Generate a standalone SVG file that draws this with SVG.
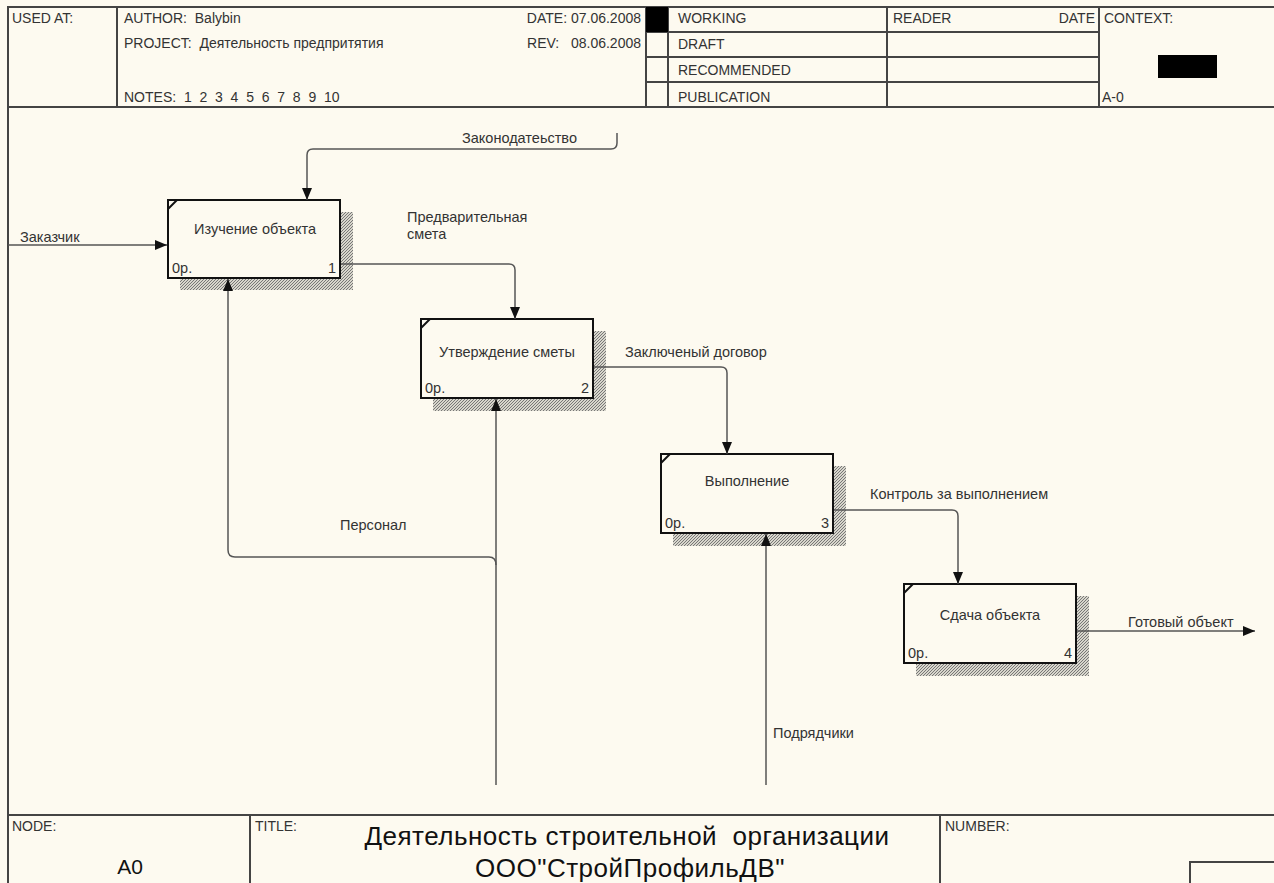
<svg xmlns="http://www.w3.org/2000/svg" width="1274" height="883" viewBox="0 0 1274 883">
<style>
text{font-family:"Liberation Sans",Arial,sans-serif;fill:#333;white-space:pre}
.h{font-size:14px}
.l{font-size:14.5px}
.t{fill:#111}
.frame{stroke:#444;stroke-width:2;fill:none}
.box{fill:#fdfaf0;stroke:#111;stroke-width:2}
.sh{fill:url(#hatch)}
.c{fill:none;stroke:#555;stroke-width:1.5}
</style>
<defs>
<pattern id="hatch" width="3" height="3" patternUnits="userSpaceOnUse">
<rect width="3" height="3" fill="#d8d6cc"/>
<path d="M0,3 L3,0" stroke="#777" stroke-width="1"/>
</pattern>
<marker id="ah" markerWidth="12" markerHeight="10" refX="12" refY="5" orient="auto" markerUnits="userSpaceOnUse">
<path d="M0,0 L12,5 L0,10 z" fill="#111"/>
</marker>
</defs>
<rect width="1274" height="883" fill="#fdfaf0"/>
<g id="frame">
<path class="frame" d="M8,883 L8,7 L1274,7 M8,107 L1274,107 M8,815 L1274,815"/>
<path class="frame" d="M117,7 L117,107 M646,7 L646,107 M668,7 L668,107 M887,7 L887,107 M1099,7 L1099,107 M646,32 L1099,32 M646,57 L1099,57 M646,82 L1099,82"/>
<rect x="646" y="7" width="22" height="25" fill="#000"/>
<rect x="1158" y="55" width="59" height="23" fill="#000"/>
<path class="frame" d="M250,815 L250,883 M940,815 L940,883 M1190,883 L1190,862 L1274,862"/>
<text class="h" x="12" y="23">USED AT:</text>
<text class="h" x="124" y="23">AUTHOR:  Balybin</text>
<text class="h" x="124" y="48">PROJECT:  Деятельность предпритятия</text>
<text class="h" x="124" y="102">NOTES:  1  2  3  4  5  6  7  8  9  10</text>
<text class="h" x="641" y="23" text-anchor="end">DATE: 07.06.2008</text>
<text class="h" x="641" y="48" text-anchor="end">REV:   08.06.2008</text>
<text class="h" x="678" y="23">WORKING</text>
<text class="h" x="678" y="49">DRAFT</text>
<text class="h" x="678" y="75">RECOMMENDED</text>
<text class="h" x="678" y="102">PUBLICATION</text>
<text class="h" x="893" y="23">READER</text>
<text class="h" x="1095" y="23" text-anchor="end">DATE</text>
<text class="h" x="1104" y="23">CONTEXT:</text>
<text class="h" x="1102" y="102">A-0</text>
<text class="h" x="12" y="831">NODE:</text>
<text class="h" x="255" y="831">TITLE:</text>
<text class="h" x="945" y="831">NUMBER:</text>
<text class="t" x="130" y="874" font-size="21" text-anchor="middle">A0</text>
<text class="t" x="627" y="845" font-size="26" letter-spacing="0.5" text-anchor="middle">Деятельность строительной  организации</text>
<text class="t" x="630" y="877" font-size="26" letter-spacing="0.5" text-anchor="middle">ООО"СтройПрофильДВ"</text>
</g>
<g id="node1">
<rect class="sh" x="180" y="212" width="173" height="78"/>
<rect class="box" x="168" y="200" width="172" height="78"/>
<path d="M168,209 L177,200" stroke="#111" stroke-width="2"/>
<text class="l" x="255" y="234" text-anchor="middle">Изучение объекта</text>
<text class="l" x="172" y="273">0р.</text>
<text class="l" x="336" y="273" text-anchor="end">1</text>
</g>
<g id="node2">
<rect class="sh" x="433" y="331" width="173" height="80"/>
<rect class="box" x="421" y="319" width="172" height="79"/>
<path d="M421,328 L430,319" stroke="#111" stroke-width="2"/>
<text class="l" x="507" y="357" text-anchor="middle">Утверждение сметы</text>
<text class="l" x="425" y="393">0р.</text>
<text class="l" x="589" y="393" text-anchor="end">2</text>
</g>
<g id="node3">
<rect class="sh" x="673" y="466" width="173" height="80"/>
<rect class="box" x="661" y="454" width="172" height="79"/>
<path d="M661,463 L670,454" stroke="#111" stroke-width="2"/>
<text class="l" x="747" y="486" text-anchor="middle">Выполнение</text>
<text class="l" x="665" y="528">0р.</text>
<text class="l" x="829" y="528" text-anchor="end">3</text>
</g>
<g id="node4">
<rect class="sh" x="916" y="596" width="173" height="80"/>
<rect class="box" x="904" y="584" width="172" height="79"/>
<path d="M904,593 L913,584" stroke="#111" stroke-width="2"/>
<text class="l" x="990" y="620" text-anchor="middle">Сдача объекта</text>
<text class="l" x="908" y="658">0р.</text>
<text class="l" x="1072" y="658" text-anchor="end">4</text>
</g>
<g id="connectors">
<path class="c" d="M617,133 L617,143 Q617,149 611,149 L313,149 Q307,149 307,155 L307,200" marker-end="url(#ah)"/>
<path class="c" d="M8,245 L167,245" marker-end="url(#ah)"/>
<path class="c" d="M341,264 L509,264 Q515,264 515,270 L515,319" marker-end="url(#ah)"/>
<path class="c" d="M594,367 L721,367 Q727,367 727,373 L727,454" marker-end="url(#ah)"/>
<path class="c" d="M834,510 L952,510 Q958,510 958,516 L958,584" marker-end="url(#ah)"/>
<path class="c" d="M1077,631 L1255,631" marker-end="url(#ah)"/>
<path class="c" d="M496,785 L496,399" marker-end="url(#ah)"/>
<path class="c" d="M496,565 Q496,557 489,557 L235,557 Q228,557 228,550 L228,279" marker-end="url(#ah)"/>
<path class="c" d="M766,785 L766,534" marker-end="url(#ah)"/>
<text class="l" x="462" y="143">Законодатеьство</text>
<text class="l" x="20" y="242">Заказчик</text>
<text class="l" x="407" y="222">Предварительная</text>
<text class="l" x="407" y="239">смета</text>
<text class="l" x="625" y="357">Заключеный договор</text>
<text class="l" x="870" y="499">Контроль за выполнением</text>
<text class="l" x="1128" y="627">Готовый объект</text>
<text class="l" x="340" y="530">Персонал</text>
<text class="l" x="773" y="738">Подрядчики</text>
</g>
</svg>
